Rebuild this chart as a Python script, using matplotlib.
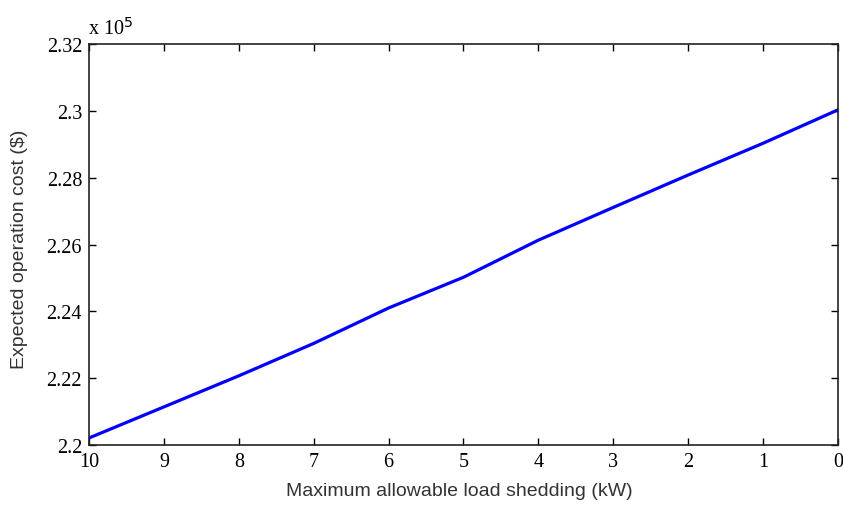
import matplotlib
matplotlib.use("Agg")
import matplotlib.pyplot as plt
from matplotlib.ticker import FuncFormatter, MultipleLocator

# Data
load_shedding = [10, 9, 8, 7, 6, 5, 4, 3, 2, 1, 0]
cost = [2.2021e5, 2.2114e5, 2.2207e5, 2.2304e5, 2.2410e5, 2.2502e5,
        2.2613e5, 2.2711e5, 2.2808e5, 2.2903e5, 2.3003e5]
x_ticks = [10, 9, 8, 7, 6, 5, 4, 3, 2, 1, 0]

fig = plt.figure(figsize=(8.43, 5.06), dpi=100)
ax = fig.add_axes([0.1056, 0.1186, 0.8884, 0.7924])

ax.plot(load_shedding, cost, color="#0000ff", linewidth=2.3)

ax.set_xlim(10, 0)
ax.set_ylim(2.2e5, 2.32e5)
ax.set_xticks(x_ticks)
ax.yaxis.set_major_locator(MultipleLocator(0.02e5))
ax.yaxis.set_major_formatter(FuncFormatter(lambda v, p: "%g" % round(v / 1e5, 4)))

serif = ["Liberation Serif", "DejaVu Serif"]
sans = ["Liberation Sans", "DejaVu Sans"]
for lab in ax.get_xticklabels() + ax.get_yticklabels():
    lab.set_fontfamily(serif)
    lab.set_fontsize(14.5)

ax.tick_params(direction="in", length=5, width=1, top=True, right=True,
               colors="black", pad=5)
for s in ax.spines.values():
    s.set_linewidth(1.2)
    s.set_color("#222222")

ax.set_xlabel("Maximum allowable load shedding (kW)", fontfamily=sans,
              fontsize=14, color="#333333")
ax.set_ylabel("Expected operation cost ($)", fontfamily=sans,
              fontsize=14, color="#333333")
ax.xaxis.set_label_coords(0.495, -0.092)
ax.yaxis.set_label_coords(-0.0814, 0.49)

ax.text(-0.001, 1.025, r"x 10$^{5}$", transform=ax.transAxes, fontfamily=serif,
        fontsize=14.5, ha="left", va="baseline")

fig.savefig("out.png", dpi=100)
